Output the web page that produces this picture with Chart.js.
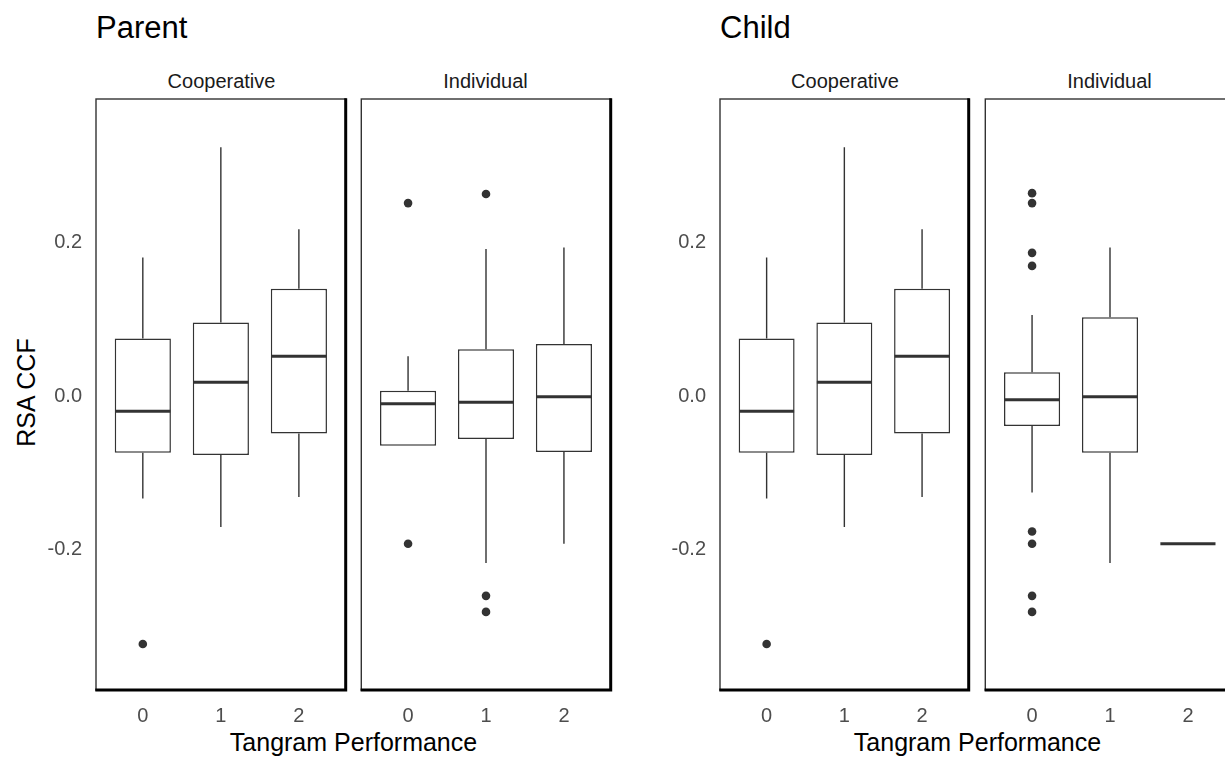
<!DOCTYPE html>
<html>
<head>
<meta charset="utf-8">
<title>RSA CCF by Tangram Performance</title>
<script src="https://cdn.jsdelivr.net/npm/chart.js@4.4.1/dist/chart.umd.min.js"></script>
<style>
    html, body { margin: 0; padding: 0; background: #fff; width: 1225px; height: 757px; overflow: hidden; }
    body { position: relative; font-family: 'Liberation Sans', Arial, sans-serif; }
    canvas { position: absolute; top: 0; }
    .txt { position: absolute; white-space: nowrap; line-height: 1; }
    .title { font-size: 31px; color: #000; top: 12px; }
    .strip { font-size: 20px; color: #1a1a1a; top: 71px; transform: translateX(-50%); }
    .axis-title { font-size: 25px; color: #000; top: 730px; transform: translateX(-50%); }
    .y-title { font-size: 25px; color: #000; width: 200px; height: 25px; text-align: center;
               left: -73.7px; top: 380px; transform: rotate(-90deg); }
</style>
</head>
<body>
<div class="txt title" style="left:96px">Parent</div>
<div class="txt title" style="left:720px">Child</div>

<div class="txt strip" style="left:221.5px">Cooperative</div>
<div class="txt strip" style="left:485.5px">Individual</div>
<div class="txt strip" style="left:845px">Cooperative</div>
<div class="txt strip" style="left:1109.5px">Individual</div>

<div class="txt axis-title" style="left:353.5px">Tangram Performance</div>
<div class="txt axis-title" style="left:977.5px">Tangram Performance</div>
<div class="txt y-title">RSA CCF</div>

<canvas id="parentCoop" width="350" height="757" style="left:0px"></canvas>
<canvas id="parentIndiv" width="258" height="757" style="left:357px"></canvas>
<canvas id="childCoop" width="353" height="757" style="left:620px"></canvas>
<canvas id="childIndiv" width="258" height="757" style="left:981px"></canvas>

<script>
// x categories (Tangram Performance) and y ticks
const categories = ['0', '1', '2'];
const yTicks = [-0.2, 0, 0.2];
const yTickLabels = ['-0.2', '0.0', '0.2'];

// box stats per category: [lower whisker, Q1, median, Q3, upper whisker]
const parentCoopStats = [
    [-0.134, -0.074, -0.020, 0.075, 0.181],
    [-0.171, -0.077, 0.018, 0.096, 0.325],
    [-0.132, -0.049, 0.052, 0.140, 0.218]
];
const parentCoopOutliers = [[-0.324], [], []];

const parentIndivStats = [
    [-0.065, -0.065, -0.010, 0.007, 0.052],
    [-0.218, -0.056, -0.008, 0.061, 0.192],
    [-0.193, -0.073, -0.001, 0.068, 0.194]
];
const parentIndivOutliers = [[0.252, -0.193], [0.264, -0.261, -0.282], []];

const childCoopStats = [
    [-0.134, -0.074, -0.020, 0.075, 0.181],
    [-0.171, -0.077, 0.018, 0.096, 0.325],
    [-0.132, -0.049, 0.052, 0.140, 0.218]
];
const childCoopOutliers = [[-0.324], [], []];

const childIndivStats = [
    [-0.126, -0.039, -0.005, 0.031, 0.106],
    [-0.218, -0.074, -0.001, 0.103, 0.194],
    [-0.193, -0.193, -0.193, -0.193, -0.193]
];
const childIndivOutliers = [[0.265, 0.252, 0.187, 0.170, -0.177, -0.193, -0.261, -0.282], [], []];

const FONT = "'Liberation Sans', Arial, sans-serif";
const INK = '#333333';

// whiskers, medians and the panel frame
const boxPartsPlugin = {
    id: 'boxParts',
    afterDatasetsDraw(chart) {
        const ctx = chart.ctx;
        const yScale = chart.scales.y;
        chart.data.datasets.forEach((ds, di) => {
            if (!ds.stats) return;
            const meta = chart.getDatasetMeta(di);
            meta.data.forEach((bar, i) => {
                const s = ds.stats[i];
                ctx.save();
                ctx.strokeStyle = INK;
                ctx.lineWidth = 1.4;
                ctx.beginPath();
                ctx.moveTo(bar.x, yScale.getPixelForValue(s[0]));
                ctx.lineTo(bar.x, yScale.getPixelForValue(s[1]));
                ctx.moveTo(bar.x, yScale.getPixelForValue(s[3]));
                ctx.lineTo(bar.x, yScale.getPixelForValue(s[4]));
                ctx.stroke();

                const ym = yScale.getPixelForValue(s[2]);
                ctx.lineWidth = 3;
                ctx.beginPath();
                ctx.moveTo(bar.x - bar.width / 2 + 0.5, ym);
                ctx.lineTo(bar.x + bar.width / 2 - 0.5, ym);
                ctx.stroke();
                ctx.restore();
            });
        });

        const a = chart.chartArea;
        ctx.save();
        ctx.strokeStyle = INK;
        ctx.lineWidth = 1.4;
        ctx.strokeRect(a.left, a.top, a.right - a.left, a.bottom - a.top);
        ctx.strokeStyle = '#000';
        ctx.lineWidth = 3;
        ctx.beginPath();
        ctx.moveTo(a.left - 0.7, a.bottom);
        ctx.lineTo(a.right, a.bottom);
        ctx.moveTo(a.right, a.top - 0.7);
        ctx.lineTo(a.right, a.bottom + 1.5);
        ctx.stroke();
        ctx.restore();
    }
};

function makeFacet(canvasId, stats, outliers, opts) {
    const ctx = document.getElementById(canvasId).getContext('2d');

    const outlierPoints = [];
    outliers.forEach((vals, i) => vals.forEach(v => outlierPoints.push({ x: i, y: v })));

    const yAxis = {
        min: -0.384,
        max: 0.388,
        display: opts.showY,
        grid: { display: false, drawTicks: false },
        border: { display: false },
        afterBuildTicks: (axis) => { axis.ticks = yTicks.map(v => ({ value: v })); },
        ticks: {
            callback: (value, index) => yTickLabels[index],
            color: '#4d4d4d',
            font: { family: FONT, size: 20 },
            padding: 14
        }
    };
    if (opts.showY) {
        yAxis.afterFit = (axis) => { axis.width = opts.yWidth; };
    }

    return new Chart(ctx, {
        type: 'bar',
        data: {
            datasets: [{
                type: 'bar',
                label: 'box',
                stats: stats,
                data: stats.map((s, i) => ({ x: i, y: [s[1], s[3]] })),
                backgroundColor: '#ffffff',
                borderColor: INK,
                borderWidth: 1.5,
                borderSkipped: false,
                categoryPercentage: 1,
                barPercentage: 0.72,
                order: 2
            }, {
                type: 'scatter',
                label: 'outliers',
                data: outlierPoints,
                pointRadius: 4.3,
                pointBackgroundColor: INK,
                pointBorderWidth: 0,
                order: 1
            }]
        },
        options: {
            responsive: false,
            animation: false,
            devicePixelRatio: 1,
            layout: { padding: { top: 99, left: opts.padLeft, right: opts.padRight, bottom: 0 } },
            plugins: {
                legend: { display: false },
                tooltip: { enabled: false }
            },
            scales: {
                x: {
                    type: 'linear',
                    min: -0.6,
                    max: 2.6,
                    offset: false,
                    grid: { display: false, drawTicks: false },
                    border: { display: false },
                    afterBuildTicks: (axis) => { axis.ticks = categories.map((c, i) => ({ value: i })); },
                    afterFit: (axis) => { axis.height = 67; },
                    ticks: {
                        callback: (value) => categories[value],
                        color: '#4d4d4d',
                        font: { family: FONT, size: 20 },
                        padding: 14,
                        maxRotation: 0,
                        autoSkip: false
                    }
                },
                y: yAxis
            }
        },
        plugins: [boxPartsPlugin]
    });
}

makeFacet('parentCoop', parentCoopStats, parentCoopOutliers, { showY: true, yWidth: 96, padLeft: 0, padRight: 3 });
makeFacet('parentIndiv', parentIndivStats, parentIndivOutliers, { showY: false, padLeft: 3, padRight: 4 });
makeFacet('childCoop', childCoopStats, childCoopOutliers, { showY: true, yWidth: 100, padLeft: 0, padRight: 3 });
makeFacet('childIndiv', childIndivStats, childIndivOutliers, { showY: false, padLeft: 3, padRight: 4 });
</script>
</body>
</html>
